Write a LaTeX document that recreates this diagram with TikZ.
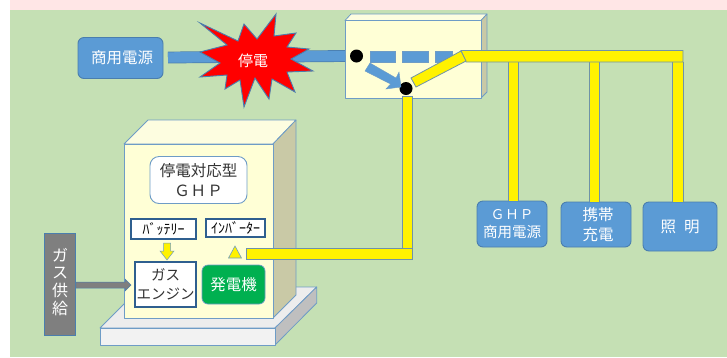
\documentclass[tikz,border=0pt]{standalone}
\usepackage{fontspec}
\setmainfont{Noto Sans CJK JP}
\definecolor{bggreen}{HTML}{C5E0B4}
\definecolor{bgpink}{HTML}{FFE6E6}
\definecolor{cream}{HTML}{FFFFD6}
\definecolor{creamtop}{HTML}{FDFDE0}
\definecolor{creamside}{HTML}{C9C9A6}
\definecolor{boxedge}{HTML}{6E9CC6}
\definecolor{mblue}{HTML}{5B9BD5}
\definecolor{dblue}{HTML}{4A7EAE}
\definecolor{navyedge}{HTML}{2F5F8F}
\definecolor{barline}{HTML}{6F93A8}
\definecolor{ggreen}{HTML}{00B050}
\definecolor{gasgray}{HTML}{7F7F7F}
\definecolor{basefront}{HTML}{F2F2F2}
\definecolor{baseside}{HTML}{BFBFBF}
\definecolor{basetop}{HTML}{EDEDED}
\definecolor{txtdark}{HTML}{333333}
\newcommand{\fsz}[1]{\fontsize{#1}{#1}\selectfont}
\tikzset{
  solidpart/.style={draw=boxedge,line width=0.8pt,line join=round},
  bluebox/.style={draw=dblue,line width=0.9pt,fill=mblue,rounded corners=6pt,text=white,align=center,inner sep=0pt,font=\fsz{15.5}},
  labelbox/.style={draw=navyedge,line width=1.2pt,fill=white,text=black,align=center,inner sep=0pt},
  ybar/.style={draw=barline,line width=0.8pt,fill=yellow},
  bluebar/.style={draw=dblue,line width=0.7pt,double=mblue,double distance=10.4pt},
  bluedash/.style={fill=mblue,draw=boxedge,line width=0.5pt},
  dropbar/.style={draw=barline,line width=0.8pt,double=yellow,double distance=9.8pt},
  dot/.style={circle,fill=black,draw=none,minimum size=13pt,inner sep=0pt}
}
\begin{document}
\begin{tikzpicture}[x=1pt,y=-1pt]
\useasboundingbox (0,0) rectangle (727,357);
\fill[white] (0,0) rectangle (727,357);
\fill[bggreen] (10,10) rectangle (727,357);
\fill[bgpink] (10,0) rectangle (727,10);

% switch box
\draw[solidpart,fill=creamtop] (345,20.5) -- (351,14) -- (487,14) -- (481,20.5) -- cycle;
\draw[solidpart,fill=creamside] (481,20.5) -- (487,14) -- (487,92) -- (481,98) -- cycle;
\draw[solidpart,fill=cream] (345,20.5) rectangle (481,98);

% source and incoming line
\node[bluebox,minimum width=85pt,minimum height=41pt] (src) at (120.5,58) {\hspace{3pt}商用電源};
\coordinate (inStart) at (168,57.5);
\coordinate (inEnd) at (345,56);
\draw[bluebar] (inStart) -- (inEnd);
\node[dot] (dotA) at (356.5,56) {};
\node[dot] (dotB) at (406,88.5) {};

% burst
\draw[fill=red,draw=dblue,line width=0.9pt,line join=miter]
 (200,23) -- (238,41) -- (244,24) -- (257,39) -- (276,14) -- (274,36) -- (296,33)
 -- (287,47) -- (309,49) -- (291,59) -- (313,71) -- (287,72) -- (295,92) -- (272,79)
 -- (269,99) -- (255,78) -- (244,107) -- (240,80) -- (225,89) -- (227,75) -- (200,77)
 -- (220,63) -- (200,52) -- (227,45) -- cycle;
\node[text=white,font=\fsz{15},inner sep=0pt] (burst) at (253,61) {停電};

% dashes and arrow inside the switch box
\draw[bluedash] (370,51) rectangle (395,62);
\draw[bluedash] (402,51) rectangle (428,62);
\draw[bluedash] (435,51) rectangle (452,62);
\draw[fill=mblue,draw=boxedge,line width=0.4pt] (365,71) -- (370,63) -- (396,78) -- (399,72) -- (401,87) -- (386,89) -- (390.5,84) -- cycle;

% yellow lines to the loads
\node[bluebox,minimum width=70pt,minimum height=46pt] (ghpsrc) at (512,224) {\raisebox{-2pt}{\fsz{13.5}Ｇ\kern1ptＨ\kern1ptＰ}\\[3pt]\raisebox{-2pt}{\fsz{14.5}商用電源}};
\node[bluebox,minimum width=70pt,minimum height=45pt] (carry) at (596,224.5) {\raisebox{-3pt}{\hspace{4pt}携帯}\\[4pt]\raisebox{-3pt}{\hspace{4pt}充電}};
\node[bluebox,minimum width=74pt,minimum height=49pt] (light) at (680,226.5) {照\hspace{8pt}明};
\coordinate (dropA) at (513.5,62);
\coordinate (dropB) at (594.5,62);
\coordinate (dropC) at (678,62);
\draw[dropbar] (dropA) -- (dropA |- ghpsrc.north);
\draw[dropbar] (dropB) -- (dropB |- carry.north);
\draw[dropbar] (dropC) -- (dropC |- light.north);
\draw[ybar] (461,50.5) -- (683,50.5) -- (683,62) -- (466,62) -- cycle;
\draw[ybar] (411,78) -- (461,51) -- (466,61) -- (416,87) -- cycle;

% GHP base
\draw[solidpart,fill=basetop] (100,328) -- (141,287) -- (316.7,287) -- (275,328) -- cycle;
\draw[solidpart,fill=baseside] (275,328) -- (316.7,287) -- (316.7,303) -- (275,345) -- cycle;
\draw[solidpart,fill=basefront] (100,328) rectangle (275,345);

% GHP cabinet
\draw[solidpart,fill=creamtop] (124,144) -- (148,120) -- (296,120) -- (273,144) -- cycle;
\draw[solidpart,fill=creamside] (273,144) -- (296,120) -- (296,295) -- (273,318) -- cycle;
\draw[solidpart,fill=cream] (124,144) rectangle (273,318);

\node[draw=boxedge,line width=0.9pt,fill=white,rounded corners=9pt,text=txtdark,align=center,inner sep=0pt,
      minimum width=97pt,minimum height=47pt,font=\fsz{15.5}] (title) at (198.5,180) {停電対応型\\[4pt]Ｇ\kern1ptＨ\kern1ptＰ};
\node[labelbox,minimum width=65pt,minimum height=20pt,font=\fsz{14}] (batt) at (163.5,229) {ﾊﾞｯﾃﾘｰ};
\node[labelbox,minimum width=59pt,minimum height=18pt,font=\fsz{14}] (inv) at (235.5,228) {ｲﾝﾊﾞｰﾀｰ};
\node[labelbox,minimum width=61pt,minimum height=45pt,font=\fsz{14.5},text=txtdark] (engine) at (165.5,284.5) {ガス\\[5pt]エンジン};
\node[draw=boxedge,line width=0.7pt,fill=ggreen,rounded corners=6pt,text=white,inner sep=0pt,
      minimum width=63pt,minimum height=39pt,font=\fsz{15.5}] (gen) at (233.5,284.5) {発電機};
\node[draw=dblue,line width=0.8pt,fill=gasgray,text=white,inner sep=0pt,
      minimum width=31pt,minimum height=102pt,font=\fsz{16}] (gas) at (60,284)
      {\raisebox{7pt}{\begin{tabular}{@{}c@{}}ガ\\ス\\供\\給\end{tabular}}};

% battery arrow, triangle, gas arrow
\draw[draw=boxedge,line width=0.5pt,fill=yellow] (163.5,243) -- (170.5,243) -- (170.5,251) -- (174,251) -- (167,260) -- (160,251) -- (163.5,251) -- cycle;
\draw[draw=boxedge,line width=0.6pt,fill=yellow] (228.5,258) -- (235,246) -- (241.5,258) -- cycle;
\draw[fill=gasgray,draw=dblue,line width=0.5pt] (gas.east |- 0,282) -- (125,282) -- (125,279) -- (131,285) -- (125,291) -- (125,288) -- (gas.east |- 0,288) -- cycle;

% generator feed
\draw[ybar] (402,96) rectangle (412.5,259);
\draw[ybar] (246,248) rectangle (412.5,259);
\end{tikzpicture}
\end{document}
